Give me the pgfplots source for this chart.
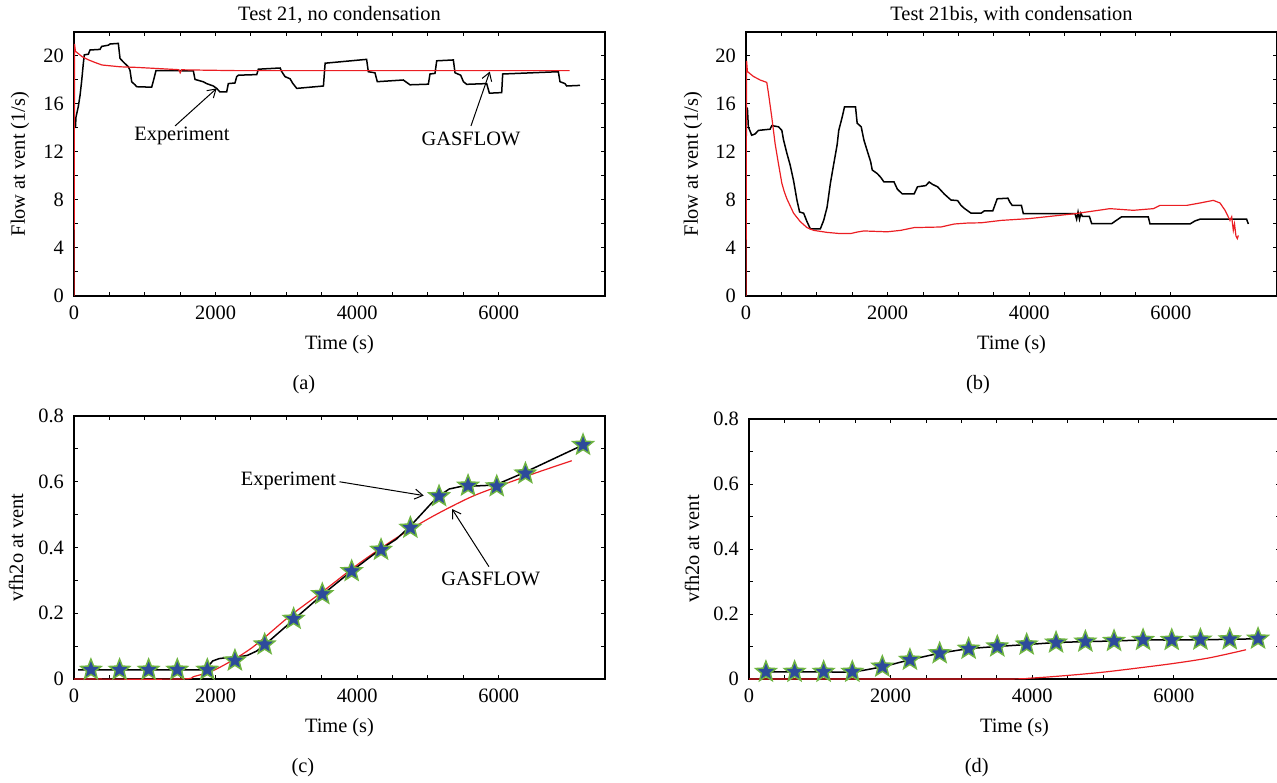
\documentclass[border=0pt]{standalone}
\usepackage{fontspec}
\setmainfont{Liberation Serif}
\usepackage{pgfplots}
\pgfplotsset{compat=1.18}
\usetikzlibrary{arrows.meta}
\definecolor{cred}{RGB}{235,30,35}
\definecolor{sblue}{RGB}{45,75,155}
\definecolor{sgreen}{RGB}{110,180,65}
\pgfdeclareplotmark{fstar}{%
  \pgfpathmoveto{\pgfpointpolar{90}{\pgfplotmarksize}}%
  \pgfpathlineto{\pgfpointpolar{126}{0.43\pgfplotmarksize}}%
  \pgfpathlineto{\pgfpointpolar{162}{\pgfplotmarksize}}%
  \pgfpathlineto{\pgfpointpolar{198}{0.43\pgfplotmarksize}}%
  \pgfpathlineto{\pgfpointpolar{234}{\pgfplotmarksize}}%
  \pgfpathlineto{\pgfpointpolar{270}{0.43\pgfplotmarksize}}%
  \pgfpathlineto{\pgfpointpolar{306}{\pgfplotmarksize}}%
  \pgfpathlineto{\pgfpointpolar{342}{0.43\pgfplotmarksize}}%
  \pgfpathlineto{\pgfpointpolar{18}{\pgfplotmarksize}}%
  \pgfpathlineto{\pgfpointpolar{54}{0.43\pgfplotmarksize}}%
  \pgfpathclose
  \pgfusepathqfillstroke
}
\tikzset{arr/.style={black, line width=0.5pt, -{Straight Barb[length=4pt,width=5pt]}}}
\pgfplotsset{
  myax/.style={
    scale only axis, width=265.5pt,
    xmin=0, xmax=7500, xtick={0,2000,4000,6000}, minor x tick num=3,
    tick align=inside, major tick length=2.2pt, minor tick length=2.2pt,
    tick style={black, line width=0.5pt},
    minor tick style={black, line width=0.5pt},
    axis line style={line width=0.6pt},
    /pgf/number format/assume math mode=true,
    /pgf/number format/1000 sep={},
    scaled ticks=false,
    xticklabel style={yshift=-1.5pt},
    yticklabel style={xshift=-1.5pt},
    xlabel={Time (s)},
    ylabel style={anchor=center},
    xlabel style={anchor=center},
    clip=false,
  },
  flowax/.style={myax, height=132pt, ymin=0, ymax=22, ytick={0,4,8,12,16,20}, minor y tick num=1,
    ylabel={Flow at vent (1/s)},
    xlabel style={at={(axis description cs:0.5,-0.1856)}}},
  vfax/.style={myax, ymin=0, ymax=0.8, ytick={0,0.2,0.4,0.6,0.8}, minor y tick num=1,
    ylabel={vfh2o at vent}},
  blk/.style={black, line width=0.75pt, no marks},
  rd/.style={cred, line width=0.6pt, no marks},
  stars/.style={black, line width=0.6pt, mark=fstar, mark size=5.4pt,
    mark options={fill=sblue, draw=sgreen, line width=0.7pt, solid}},
}
\begin{document}
\fontsize{10.2}{12}\selectfont
\begin{tikzpicture}
% ---------------- (a)
\begin{axis}[flowax, at={(37pt,243pt)}, anchor=south west,
  ylabel style={at={(axis description cs:-0.1017,0.5)}}]
\begin{scope}
\clip (axis cs:0,0) rectangle (axis cs:7500,22);
\addplot[blk] coordinates {(20,14.0)(28,14.9)(61,15.8)(85,16.7)(108,17.9)(132,19.4)(146,20.1)(203,20.15)(226,20.5)(367,20.55)(391,20.8)(485,20.9)(509,21.0)(626,21.05)(650,19.8)(697,19.5)(768,19.1)(791,18.8)(815,17.85)(862,17.6)(885,17.44)(1097,17.4)(1120,17.9)(1158,18.78)(1450,18.78)(1686,18.75)(1709,18.05)(1827,17.85)(1874,17.7)(1968,17.5)(2015,17.3)(2062,17.0)(2156,17.0)(2180,17.7)(2274,17.75)(2298,18.28)(2322,18.4)(2581,18.45)(2604,18.9)(2911,19.0)(2934,18.7)(2981,18.28)(3052,18.1)(3090,17.72)(3146,17.3)(3523,17.5)(3547,19.4)(4133,19.72)(4157,18.69)(4251,18.6)(4284,17.86)(4651,18.0)(4722,17.7)(4746,17.6)(5005,17.65)(5028,18.5)(5099,18.55)(5123,19.6)(5358,19.67)(5382,18.6)(5462,18.4)(5500,17.86)(5547,17.64)(5829,17.7)(5867,16.9)(6041,16.95)(6055,18.5)(6841,18.69)(6864,17.86)(6935,17.7)(6959,17.5)(7147,17.55)};
\addplot[rd] coordinates {(0,0)(8,21.0)(20,20.4)(40,20.3)(113,19.95)(207,19.67)(301,19.45)(395,19.25)(650,19.1)(885,19.05)(1356,18.9)(1480,18.86)(1500,18.6)(1520,18.85)(1827,18.82)(2300,18.78)(7000,18.78)};
\end{scope}
\node at (axis description cs:0.5,1.0644) {Test 21, no condensation};
\node at (axis cs:1525,13.33) {Experiment};
\draw[arr] (axis cs:1427,14.17) -- (axis cs:2015,17.3);
\node at (axis cs:5607,13.08) {GASFLOW};
\draw[arr] (axis cs:5607,14.17) -- (axis cs:5873,18.7);
\node at (axis description cs:0.433,-0.337) {(a)};
\end{axis}
% ---------------- (b)
\begin{axis}[flowax, at={(373pt,243pt)}, anchor=south west,
  ylabel style={at={(axis description cs:-0.0998,0.5)}}]
\begin{scope}
\clip (axis cs:0,0) rectangle (axis cs:7500,22);
\addplot[blk] coordinates {(15,15.7)(20,15.6)(33,14.1)(80,13.4)(128,13.5)(175,13.8)(340,13.9)(364,14.2)(459,14.1)(506,13.8)(530,13.0)(577,11.9)(624,10.9)(672,9.6)(719,8.0)(757,7.0)(814,6.9)(861,6.2)(908,5.6)(1050,5.6)(1097,6.3)(1145,7.4)(1192,9.4)(1239,11.0)(1287,12.6)(1310,13.8)(1358,14.9)(1391,15.75)(1547,15.75)(1570,14.4)(1627,14.1)(1665,13.0)(1712,12.1)(1760,11.2)(1783,10.5)(1854,10.2)(1901,9.9)(1949,9.5)(2091,9.5)(2138,8.9)(2209,8.5)(2374,8.5)(2422,9.1)(2540,9.2)(2587,9.5)(2635,9.3)(2706,9.1)(2753,8.8)(2800,8.5)(2847,8.25)(2895,8.0)(2989,7.95)(3037,7.55)(3084,7.3)(3179,6.9)(3320,6.9)(3368,7.1)(3486,7.1)(3548,8.1)(3699,8.15)(3729,7.8)(3760,7.55)(3890,7.55)(3917,6.86)(4647,6.86)(4670,6.4)(4690,7.0)(4710,6.4)(4730,6.9)(4750,6.64)(4850,6.64)(4882,6.03)(5165,6.03)(5230,6.3)(5305,6.6)(5682,6.6)(5706,6.0)(6270,6.0)(6340,6.25)(6412,6.4)(7071,6.4)(7095,6.0)};
\addplot[rd] coordinates {(0,0)(8,19.6)(20,18.7)(104,18.3)(199,18.0)(293,17.8)(317,16.9)(364,14.9)(411,12.7)(459,11.0)(506,9.4)(540,8.7)(577,8.1)(672,6.9)(766,6.2)(861,5.7)(955,5.47)(1145,5.3)(1334,5.2)(1476,5.2)(1570,5.33)(1665,5.42)(1996,5.35)(2185,5.47)(2374,5.7)(2753,5.75)(2942,6.0)(3131,6.08)(3320,6.1)(3604,6.3)(4000,6.45)(4647,6.86)(5141,7.28)(5471,7.14)(5754,7.28)(5848,7.55)(6224,7.55)(6412,7.75)(6601,7.97)(6695,7.75)(6766,7.14)(6836,6.3)(6860,6.6)(6883,5.47)(6900,6.0)(6920,5.0)(6940,4.78)(6954,5.05)};
\end{scope}
\node at (axis description cs:0.5,1.0644) {Test 21bis, with condensation};
\node at (axis description cs:0.437,-0.337) {(b)};
\end{axis}
% ---------------- (c)
\begin{axis}[vfax, height=131.5pt, at={(37pt,51.5pt)}, anchor=south west,
  ylabel style={at={(axis description cs:-0.1092,0.5)}},
  xlabel style={at={(axis description cs:0.5,-0.186)}}]
\addplot[rd, smooth] coordinates {(0,0)(1500,0)(1700,0.008)(2010,0.03)(2500,0.093)(3040,0.19)(3536,0.27)(4030,0.352)(4545,0.428)(5060,0.494)(5600,0.553)(6045,0.59)(6537,0.628)(7030,0.664)};
\addplot[blk] coordinates {(60,0.028)(1855,0.028)(1900,0.04)(1960,0.055)(2050,0.062)(2150,0.065)(2300,0.066)(2450,0.072)(2580,0.085)(2700,0.105)(3100,0.18)(3500,0.255)(3900,0.325)(4300,0.39)(4550,0.425)(4750,0.465)(4900,0.5)(5050,0.535)(5150,0.556)(5300,0.578)(5450,0.585)(5950,0.59)(6350,0.627)(7190,0.712)};
\addplot[stars, only marks] coordinates {(239,0.028)(644,0.028)(1054,0.028)(1459,0.028)(1883,0.028)(2273,0.056)(2693,0.105)(3102,0.183)(3507,0.258)(3922,0.328)(4337,0.393)(4751,0.46)(5156,0.556)(5566,0.588)(5971,0.586)(6376,0.625)(7190,0.712)};
\node at (axis cs:3030,0.602) {Experiment};
\draw[arr] (axis cs:3750,0.60) -- (axis cs:4940,0.558);
\node at (axis cs:5887,0.304) {GASFLOW};
\draw[arr] (axis cs:5860,0.342) -- (axis cs:5340,0.517);
\node at (axis description cs:0.431,-0.338) {(c)};
\end{axis}
% ---------------- (d)
\begin{axis}[vfax, height=130pt, at={(374.5pt,51.5pt)}, anchor=south west,
  ylabel style={at={(axis description cs:-0.1073,0.5)}},
  xlabel style={at={(axis description cs:0.5,-0.188)}}]
\addplot[rd, smooth] coordinates {(0,0)(3500,0)(4000,0.003)(4500,0.011)(5000,0.021)(5500,0.034)(6000,0.048)(6500,0.065)(7020,0.09)};
\addplot[blk, smooth] coordinates {(239,0.022)(644,0.022)(1054,0.022)(1459,0.022)(1883,0.038)(2273,0.059)(2693,0.079)(3102,0.093)(3507,0.1)(3922,0.106)(4337,0.112)(4751,0.115)(5156,0.117)(5566,0.12)(5971,0.12)(6376,0.121)(6790,0.122)(7190,0.124)};
\addplot[stars, only marks] coordinates {(239,0.022)(644,0.022)(1054,0.022)(1459,0.022)(1883,0.038)(2273,0.059)(2693,0.079)(3102,0.093)(3507,0.1)(3922,0.106)(4337,0.112)(4751,0.115)(5156,0.117)(5566,0.12)(5971,0.12)(6376,0.121)(6790,0.122)(7190,0.124)};
\node at (axis description cs:0.429,-0.342) {(d)};
\end{axis}
\pgfresetboundingbox
\useasboundingbox (0,0) rectangle (638.5pt,391pt);
\end{tikzpicture}
\end{document}
